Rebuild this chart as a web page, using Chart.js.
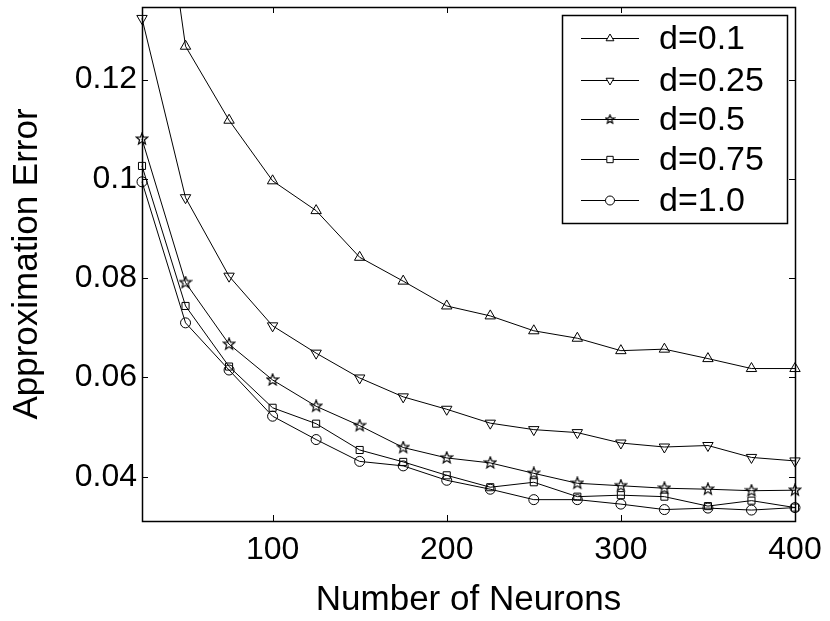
<!DOCTYPE html>
<html>
<head>
<meta charset="utf-8">
<script src="https://cdn.jsdelivr.net/npm/chart.js@4"></script>
<style>
    html, body { margin: 0; padding: 0; background: #fff; }
    #wrap { width: 830px; height: 621px; }
</style>
</head>
<body>
<div id="wrap"><canvas id="chart" width="830" height="621"></canvas></div>
<script>
const neurons = [25, 50, 75, 100, 125, 150, 175, 200, 225, 250, 275, 300, 325, 350, 375, 400];
const seriesLabels = ['d=0.1', 'd=0.25', 'd=0.5', 'd=0.75', 'd=1.0'];

const errD01 = [0.189, 0.1267, 0.1118, 0.0996, 0.0936, 0.0842, 0.0794, 0.0744, 0.0724, 0.0694, 0.0679, 0.0654, 0.0657, 0.0638, 0.0618, 0.0618];
const errD025 = [0.1323, 0.0962, 0.0804, 0.0704, 0.0649, 0.0599, 0.0561, 0.0536, 0.0508, 0.0495, 0.0489, 0.0468, 0.0460, 0.0463, 0.0439, 0.0432];
const errD05 = [0.1080, 0.0791, 0.0667, 0.0595, 0.0542, 0.0503, 0.0459, 0.0438, 0.0428, 0.0407, 0.0387, 0.0382, 0.0377, 0.0375, 0.0372, 0.0373];
const errD075 = [0.1026, 0.0744, 0.0622, 0.0539, 0.0507, 0.0454, 0.0430, 0.0403, 0.0379, 0.0389, 0.0360, 0.0363, 0.0360, 0.0341, 0.0352, 0.0338];
const errD10 = [0.0994, 0.0710, 0.0615, 0.0522, 0.0475, 0.0431, 0.0422, 0.0393, 0.0375, 0.0354, 0.0354, 0.0345, 0.0334, 0.0337, 0.0333, 0.0338];

const xTicks = [100, 200, 300, 400];
const yTicks = [0.04, 0.06, 0.08, 0.1, 0.12];

const FONT = '"Liberation Sans", Arial, sans-serif';

// pentagram marker (Chart.js 'star' is a cross, not a five point star)
function makeStar(size, outer, inner) {
    const c = document.createElement('canvas');
    c.width = size;
    c.height = size;
    const g = c.getContext('2d');
    const cx = size / 2, cy = size / 2;
    g.beginPath();
    for (let i = 0; i < 10; i++) {
        const r = i % 2 === 0 ? outer : inner;
        const a = -Math.PI / 2 + i * Math.PI / 5;
        const px = cx + r * Math.cos(a), py = cy + r * Math.sin(a);
        if (i === 0) g.moveTo(px, py); else g.lineTo(px, py);
    }
    g.closePath();
    g.strokeStyle = '#000';
    g.lineWidth = 1.2;
    g.stroke();
    return c;
}
const starBig = makeStar(14, 6, 2.6);
const starSmall = makeStar(11, 4.5, 2);

function series(label, data, style, rotation, radius) {
    return {
        label: label,
        data: data,
        borderColor: '#000',
        backgroundColor: 'rgba(0,0,0,0)',
        borderWidth: 1,
        pointStyle: style,
        pointRotation: rotation,
        pointRadius: radius,
        pointBorderColor: '#000',
        pointBackgroundColor: 'rgba(0,0,0,0)',
        pointBorderWidth: 1,
        tension: 0,
        clip: { left: 8, right: 8, top: 0, bottom: 8 }
    };
}

// box, inward ticks and the legend
const framePlugin = {
    id: 'frame',
    afterDraw(chart) {
        const ctx = chart.ctx;
        const a = chart.chartArea;
        const xs = chart.scales.x, ys = chart.scales.y;
        const tick = 6;
        ctx.save();
        ctx.strokeStyle = '#000';
        ctx.lineWidth = 1;
        ctx.beginPath();
        xTicks.forEach(v => {
            const px = Math.round(xs.getPixelForValue(v)) + 0.5;
            ctx.moveTo(px, a.bottom); ctx.lineTo(px, a.bottom - tick);
            ctx.moveTo(px, a.top); ctx.lineTo(px, a.top + tick);
        });
        yTicks.forEach(v => {
            const py = Math.round(ys.getPixelForValue(v)) + 0.5;
            ctx.moveTo(a.left, py); ctx.lineTo(a.left + tick, py);
            ctx.moveTo(a.right, py); ctx.lineTo(a.right - tick, py);
        });
        ctx.stroke();
        ctx.lineWidth = 1.5;
        ctx.strokeRect(Math.round(a.left) + 0.5, Math.round(a.top) + 0.5,
            Math.round(a.right - a.left), Math.round(a.bottom - a.top));

        // legend
        const lx = 562, ly = 15, lw = 225, lh = 208;
        ctx.fillStyle = '#fff';
        ctx.fillRect(lx, ly, lw, lh);
        ctx.lineWidth = 1.5;
        ctx.strokeRect(lx + 0.5, ly + 0.5, lw, lh);
        const rows = [38, 80, 119, 159, 200];
        ctx.font = '34px ' + FONT;
        ctx.textBaseline = 'middle';
        ctx.textAlign = 'left';
        chart.data.datasets.forEach((ds, i) => {
            const y = rows[i] + 0.5;
            ctx.strokeStyle = '#000';
            ctx.lineWidth = 1;
            ctx.beginPath();
            ctx.moveTo(581, y);
            ctx.lineTo(639, y);
            ctx.stroke();
            const style = ds.pointStyle === starBig ? starSmall : ds.pointStyle;
            ctx.fillStyle = '#fff';
            Chart.helpers.drawPoint(ctx, {
                pointStyle: style,
                rotation: ds.pointRotation || 0,
                radius: 4.5,
                borderWidth: 1
            }, 610, y);
            ctx.fillStyle = '#000';
            ctx.fillText(ds.label, 659, rows[i] + 2);
        });
        ctx.restore();
    }
};

new Chart(document.getElementById('chart'), {
    type: 'line',
    data: {
        datasets: [
            series(seriesLabels[0], errD01.map((v, i) => ({ x: neurons[i], y: v })), 'triangle', 0, 6),
            series(seriesLabels[1], errD025.map((v, i) => ({ x: neurons[i], y: v })), 'triangle', 180, 6),
            series(seriesLabels[2], errD05.map((v, i) => ({ x: neurons[i], y: v })), starBig, 0, 6),
            series(seriesLabels[3], errD075.map((v, i) => ({ x: neurons[i], y: v })), 'rect', 0, 5),
            series(seriesLabels[4], errD10.map((v, i) => ({ x: neurons[i], y: v })), 'circle', 0, 5)
        ]
    },
    options: {
        responsive: false,
        animation: false,
        events: [],
        layout: { padding: { top: 7, right: 35, left: 0, bottom: 0 } },
        plugins: {
            legend: { display: false },
            tooltip: { enabled: false }
        },
        scales: {
            x: {
                type: 'linear',
                min: 25,
                max: 400,
                afterFit(scale) {
                    scale.height = 100;
                    scale.paddingLeft = 0;
                    scale.paddingRight = 0;
                },
                afterBuildTicks(scale) { scale.ticks = xTicks.map(v => ({ value: v })); },
                grid: { display: false, drawTicks: false },
                border: { display: false },
                ticks: {
                    color: '#000',
                    padding: 10,
                    maxRotation: 0,
                    font: { family: FONT, size: 32 }
                },
                title: {
                    display: true,
                    text: 'Number of Neurons',
                    color: '#000',
                    padding: { top: 2, bottom: 0 },
                    font: { family: FONT, size: 35 }
                }
            },
            y: {
                type: 'linear',
                min: 0.0311,
                max: 0.1346,
                afterFit(scale) {
                    scale.width = 142;
                    scale.paddingTop = 0;
                    scale.paddingBottom = 0;
                },
                afterBuildTicks(scale) { scale.ticks = yTicks.map(v => ({ value: v })); },
                grid: { display: false, drawTicks: false },
                border: { display: false },
                ticks: {
                    color: '#000',
                    padding: 5,
                    font: { family: FONT, size: 32 },
                    callback: v => String(Math.round(v * 100) / 100)
                },
                title: {
                    display: true,
                    text: 'Approximation Error',
                    color: '#000',
                    padding: { top: 6, bottom: 0 },
                    font: { family: FONT, size: 35 }
                }
            }
        }
    },
    plugins: [framePlugin]
});
</script>
</body>
</html>
